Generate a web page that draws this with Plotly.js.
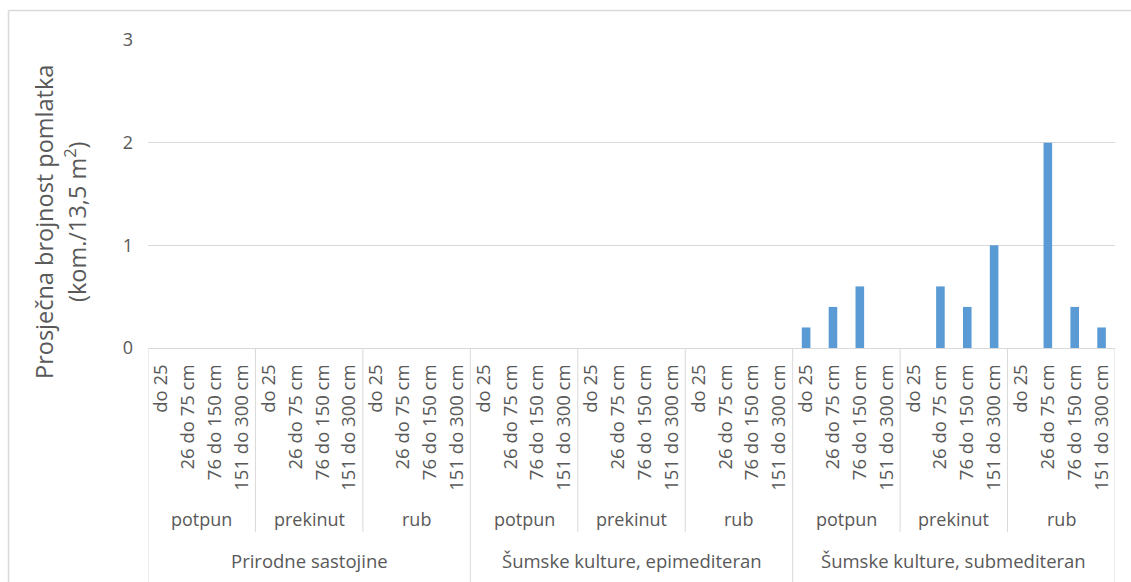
<!DOCTYPE html>
<html>
<head>
<meta charset="utf-8">
<script src="https://cdn.plot.ly/plotly-3.0.1.min.js"></script>
<style>html,body{margin:0;padding:0;background:#fff;}#chart{width:1131px;height:582px;}</style>
</head>
<body>
<div id="chart"></div>
<script>
// Category hierarchy
const groups = ["Prirodne sastojine", "Šumske kulture, epimediteran", "Šumske kulture, submediteran"];
const subgroups = ["potpun", "prekinut", "rub"];
const sizeClasses = ["do 25", "26 do 75 cm", "76 do 150 cm", "151 do 300 cm"];

// Values per group (subgroup order: potpun, prekinut, rub; each with 4 size classes)
const prirodneValues = [0, 0, 0, 0,  0, 0, 0, 0,  0, 0, 0, 0];
const epimediteranValues = [0, 0, 0, 0,  0, 0, 0, 0,  0, 0, 0, 0];
const submediteranValues = [0.2, 0.4, 0.6, 0,  0, 0.6, 0.4, 1.0,  0, 2.0, 0.4, 0.2];

const yTitleLine1 = "Prosječna brojnost pomlatka";
const yTitleLine2 = "(kom./13,5 m<sup>2</sup>)";

const values = prirodneValues.concat(epimediteranValues, submediteranValues);
const n = values.length;
const xIdx = values.map((v, i) => i);
const tickText = [];
groups.forEach(() => subgroups.forEach(() => sizeClasses.forEach(s => tickText.push(s))));

const nS = sizeClasses.length, nSub = subgroups.length;
const textColor = "#595959";
const lineColor = "#d9d9d9";
const fontFam = "Open Sans";
const plotTop = 40, plotBottom = 348, plotLeft = 148, plotRight = 1115;
const ph = plotBottom - plotTop, pw = plotRight - plotLeft;
const py = p => (plotBottom - p) / ph;   // pixel y -> paper y
const px = p => (p - plotLeft) / pw;     // pixel x -> paper x

const shapes = [];
const annotations = [];

// subgroup dividers and labels
groups.forEach((g, gi) => {
  subgroups.forEach((s, si) => {
    const start = (gi * nSub + si) * nS;
    annotations.push({
      xref: "x", yref: "paper", x: start + (nS - 1) / 2, y: py(519),
      text: s, showarrow: false, xanchor: "center", yanchor: "middle",
      font: {family: fontFam, size: 18, color: textColor}
    });
    if (si > 0) {
      shapes.push({type: "line", xref: "x", yref: "paper",
        x0: start - 0.5, x1: start - 0.5, y0: 0, y1: py(532),
        line: {color: lineColor, width: 1}});
    }
  });
  const gStart = gi * nSub * nS;
  annotations.push({
    xref: "x", yref: "paper", x: gStart + (nSub * nS - 1) / 2, y: py(560),
    text: g, showarrow: false, xanchor: "center", yanchor: "middle",
    font: {family: fontFam, size: 18.5, color: textColor}
  });
});
// group dividers
for (let gi = 0; gi <= groups.length; gi++) {
  const xb = gi * nSub * nS - 0.5;
  shapes.push({type: "line", xref: "x", yref: "paper",
    x0: xb, x1: xb, y0: 0, y1: py(582), line: {color: lineColor, width: 1}});
}
// outer chart border (left and top)
shapes.push({type: "line", xref: "paper", yref: "paper",
  x0: px(8.5), x1: px(8.5), y0: py(10.5), y1: py(590), line: {color: "#d9d9d9", width: 1.5}});
shapes.push({type: "line", xref: "paper", yref: "paper",
  x0: px(8.5), x1: px(1140), y0: py(10.5), y1: py(10.5), line: {color: "#d9d9d9", width: 1.5}});

// y-axis title as two lines
annotations.push({xref: "paper", yref: "paper", x: px(44), y: py(222), text: yTitleLine1,
  textangle: -90, showarrow: false, xanchor: "center", yanchor: "middle",
  font: {family: fontFam, size: 23.5, color: textColor}});
annotations.push({xref: "paper", yref: "paper", x: px(76), y: py(222), text: yTitleLine2,
  textangle: -90, showarrow: false, xanchor: "center", yanchor: "middle",
  font: {family: fontFam, size: 23.5, color: textColor}});

const trace = {
  type: "bar", x: xIdx, y: values,
  marker: {color: "#5B9BD5", line: {width: 0}},
  hoverinfo: "skip"
};

const layout = {
  width: 1131, height: 582,
  margin: {l: plotLeft, r: 1131 - plotRight, t: plotTop, b: 582 - plotBottom},
  paper_bgcolor: "#fff", plot_bgcolor: "#fff",
  bargap: 0.68,
  showlegend: false,
  xaxis: {
    range: [-0.5, n - 0.5], tickmode: "array", tickvals: xIdx, ticktext: tickText,
    tickangle: -90, ticks: "", ticklabelstandoff: 8,
    showgrid: false, zeroline: false, showline: true, linecolor: lineColor, linewidth: 1,
    tickfont: {family: fontFam, size: 18.5, color: textColor}, fixedrange: true
  },
  yaxis: {
    range: [0, 3], tickvals: [0, 1, 2, 3], ticks: "", ticklabelstandoff: 14,
    showgrid: true, gridcolor: lineColor, gridwidth: 1, zeroline: false, showline: false,
    tickfont: {family: fontFam, size: 18, color: textColor}, fixedrange: true
  },
  shapes: shapes,
  annotations: annotations
};

Plotly.newPlot("chart", [trace], layout, {displayModeBar: false, staticPlot: true});
</script>
</body>
</html>
